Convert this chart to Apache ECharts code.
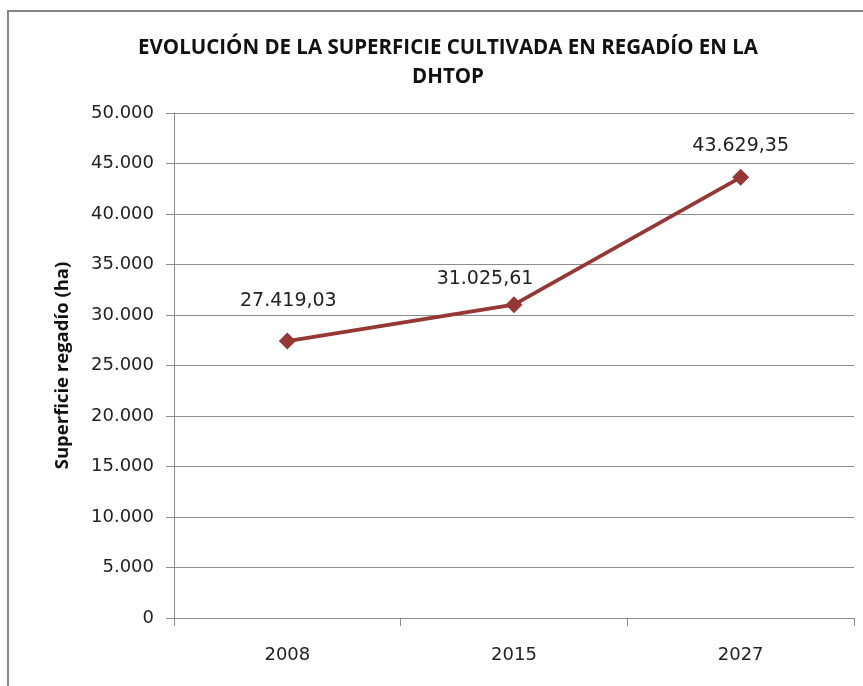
<!DOCTYPE html>
<html><head><meta charset="utf-8">
<script src="https://cdn.jsdelivr.net/npm/echarts@6/dist/echarts.min.js"></script>
<style>html,body{margin:0;padding:0;background:#fff}#c{width:863px;height:686px}</style>
</head><body><div id="c"></div>
<script>
const categories = ['2008', '2015', '2027'];
const values = [27419.03, 31025.61, 43629.35];
const yTicks = [0, 5000, 10000, 15000, 20000, 25000, 30000, 35000, 40000, 45000, 50000];
const titleText = 'EVOLUCIÓN DE LA SUPERFICIE CULTIVADA EN REGADÍO EN LA\nDHTOP';
const yName = 'Superficie regadío (ha)';

const labelOffsets = [[1, -9], [-29, 5], [0, 0]];
const FONT = 'Open Sans';
const NUMFONT = 'DejaVu Sans';

function fmt(v, dec) {
  const s = v.toFixed(dec);
  const parts = s.split('.');
  const int = parts[0].replace(/\B(?=(\d{3})+(?!\d))/g, '.');
  return parts.length > 1 ? int + ',' + parts[1] : int;
}

const chart = echarts.init(document.getElementById('c'), null, {renderer: 'canvas'});
chart.setOption({
  animation: false,
  backgroundColor: '#fff',
  title: {
    text: titleText, left: 443, top: 29, textAlign: 'center',
    textStyle: {fontFamily: FONT, fontWeight: 'bold', fontSize: 20.5, color: '#111', lineHeight: 29}
  },
  graphic: [{
    type: 'rect', shape: {x: 8, y: 11, width: 900, height: 700},
    style: {fill: 'none', stroke: '#868686', lineWidth: 2}, silent: true
  }],
  grid: {left: 174, right: 9, top: 113, bottom: 68, containLabel: false},
  xAxis: {
    type: 'category', data: categories, boundaryGap: true,
    axisLine: {lineStyle: {color: '#8c8c8c', width: 1}},
    axisTick: {show: true, length: 8, alignWithLabel: false, lineStyle: {color: '#8c8c8c'}},
    axisLabel: {fontFamily: NUMFONT, fontSize: 18, color: '#222', margin: 28}
  },
  yAxis: {
    type: 'value', min: yTicks[0], max: yTicks[yTicks.length - 1], interval: yTicks[1] - yTicks[0],
    name: yName, nameLocation: 'middle', nameGap: 102, nameRotate: 90,
    nameTextStyle: {fontFamily: FONT, fontWeight: 'bold', fontSize: 18.5, color: '#111'},
    axisLine: {show: true, lineStyle: {color: '#8c8c8c'}},
    axisTick: {show: true, length: 8, lineStyle: {color: '#8c8c8c'}},
    axisLabel: {fontFamily: NUMFONT, fontSize: 18, color: '#222', margin: 20, formatter: v => fmt(v, 0)},
    splitLine: {show: true, lineStyle: {color: '#8c8c8c', width: 1}}
  },
  series: [{
    type: 'line',
    data: values.map((v, i) => ({value: v, label: {offset: labelOffsets[i]}})),
    symbol: 'diamond', symbolSize: 17,
    lineStyle: {color: '#953735', width: 3.8},
    itemStyle: {color: '#953735'},
    label: {
      show: true, position: 'top', distance: 13,
      fontFamily: NUMFONT, fontSize: 19, color: '#222',
      formatter: p => fmt(p.value, 2)
    }
  }]
});
</script></body></html>
